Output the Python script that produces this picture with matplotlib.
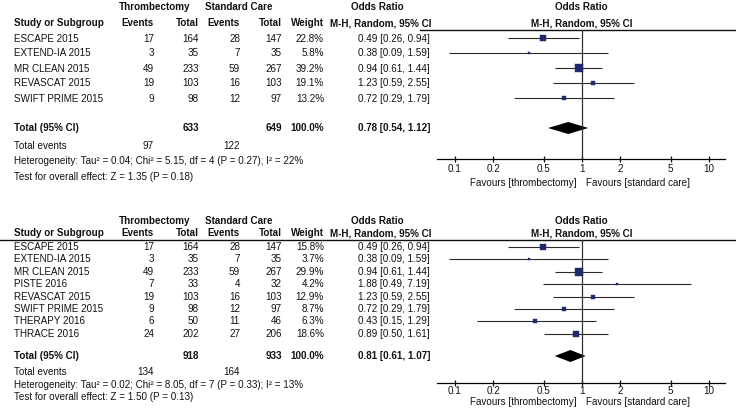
import matplotlib
matplotlib.use("Agg")
import matplotlib.pyplot as plt
import numpy as np

plt.rcParams['font.family'] = ['Liberation Sans', 'DejaVu Sans']
plt.rcParams['font.size'] = 7.1

# ---- panel 1 data ----
studies_1 = ['ESCAPE 2015', 'EXTEND-IA 2015', 'MR CLEAN 2015', 'REVASCAT 2015', 'SWIFT PRIME 2015']
ev_t_1 = [17, 3, 49, 19, 9]
tot_t_1 = [164, 35, 233, 103, 98]
ev_c_1 = [28, 7, 59, 16, 12]
tot_c_1 = [147, 35, 267, 103, 97]
weight_1 = [22.8, 5.8, 39.2, 19.1, 13.2]
or_1 = [0.49, 0.38, 0.94, 1.23, 0.72]
lo_1 = [0.26, 0.09, 0.61, 0.59, 0.29]
hi_1 = [0.94, 1.59, 1.44, 2.55, 1.79]
total_1 = (633, 649, 0.78, 0.54, 1.12)
events_1 = (97, 122)
het_1 = 'Heterogeneity: Tau\u00b2 = 0.04; Chi\u00b2 = 5.15, df = 4 (P = 0.27); I\u00b2 = 22%'
test_1 = 'Test for overall effect: Z = 1.35 (P = 0.18)'

# ---- panel 2 data ----
studies_2 = ['ESCAPE 2015', 'EXTEND-IA 2015', 'MR CLEAN 2015', 'PISTE 2016', 'REVASCAT 2015',
             'SWIFT PRIME 2015', 'THERAPY 2016', 'THRACE 2016']
ev_t_2 = [17, 3, 49, 7, 19, 9, 6, 24]
tot_t_2 = [164, 35, 233, 33, 103, 98, 50, 202]
ev_c_2 = [28, 7, 59, 4, 16, 12, 11, 27]
tot_c_2 = [147, 35, 267, 32, 103, 97, 46, 206]
weight_2 = [15.8, 3.7, 29.9, 4.2, 12.9, 8.7, 6.3, 18.6]
or_2 = [0.49, 0.38, 0.94, 1.88, 1.23, 0.72, 0.43, 0.89]
lo_2 = [0.26, 0.09, 0.61, 0.49, 0.59, 0.29, 0.15, 0.50]
hi_2 = [0.94, 1.59, 1.44, 7.19, 2.55, 1.79, 1.29, 1.61]
total_2 = (918, 933, 0.81, 0.61, 1.07)
events_2 = (134, 164)
het_2 = 'Heterogeneity: Tau\u00b2 = 0.02; Chi\u00b2 = 8.05, df = 7 (P = 0.33); I\u00b2 = 13%'
test_2 = 'Test for overall effect: Z = 1.50 (P = 0.13)'

tick_vals = [0.1, 0.2, 0.5, 1, 2, 5, 10]
tick_labels = ['0.1', '0.2', '0.5', '1', '2', '5', '10']

W, H = 736, 409
fig = plt.figure(figsize=(W / 100, H / 100), dpi=100)
fig.patch.set_facecolor('white')

# full-figure axes in pixel coordinates for the table text
tax = fig.add_axes([0, 0, 1, 1])
tax.set_xlim(0, W)
tax.set_ylim(H, 0)
tax.axis('off')

TXT = '#111111'
NAVY = '#1f2a6e'
FX0, FX1 = 437, 725          # forest plot x extent (pixels)
XLIM = (0.0722, 13.37)


def panel(h1, h2, line_x0, row0, dy, axis_y, tot_y, ev_y, foot_dy, fav_y, lab_pad,
          studies, ev_t, tot_t, ev_c, tot_c, weight, est, lo, hi, total, events, het, test):
    # header
    for x, s in [(155, 'Thrombectomy'), (239, 'Standard Care'), (377, 'Odds Ratio'), (581, 'Odds Ratio')]:
        tax.text(x, h1, s, ha='center', va='center', fontweight='bold', color=TXT)
    tax.text(14, h2, 'Study or Subgroup', ha='left', va='center', fontweight='bold', color=TXT)
    for x, s in [(154, 'Events'), (199, 'Total'), (240, 'Events'), (282, 'Total'), (324, 'Weight')]:
        tax.text(x, h2, s, ha='right', va='center', fontweight='bold', color=TXT)
    tax.text(381, h2, 'M-H, Random, 95% CI', ha='center', va='center', fontweight='bold', color=TXT)
    tax.text(582, h2, 'M-H, Random, 95% CI', ha='center', va='center', fontweight='bold', color=TXT)
    line_y = h2 + 6.5
    tax.plot([line_x0, W], [line_y, line_y], color='#111111', lw=1.0)

    # study rows
    ys = [row0 + i * dy for i in range(len(studies))]
    for i, y in enumerate(ys):
        tax.text(14, y, studies[i], ha='left', va='center', color=TXT)
        tax.text(154, y, str(ev_t[i]), ha='right', va='center', color=TXT)
        tax.text(199, y, str(tot_t[i]), ha='right', va='center', color=TXT)
        tax.text(240, y, str(ev_c[i]), ha='right', va='center', color=TXT)
        tax.text(282, y, str(tot_c[i]), ha='right', va='center', color=TXT)
        tax.text(324, y, f'{weight[i]:.1f}%', ha='right', va='center', color=TXT)
        tax.text(430, y, f'{est[i]:.2f} [{lo[i]:.2f}, {hi[i]:.2f}]', ha='right', va='center', color=TXT)

    # totals
    tt, tc, te, tl, th = total
    tax.text(14, tot_y, 'Total (95% CI)', ha='left', va='center', fontweight='bold', color=TXT)
    tax.text(199, tot_y, str(tt), ha='right', va='center', fontweight='bold', color=TXT)
    tax.text(282, tot_y, str(tc), ha='right', va='center', fontweight='bold', color=TXT)
    tax.text(324, tot_y, '100.0%', ha='right', va='center', fontweight='bold', color=TXT)
    tax.text(430, tot_y, f'{te:.2f} [{tl:.2f}, {th:.2f}]', ha='right', va='center',
             fontweight='bold', color=TXT)
    tax.text(14, ev_y, 'Total events', ha='left', va='center', color=TXT)
    tax.text(154, ev_y, str(events[0]), ha='right', va='center', color=TXT)
    tax.text(240, ev_y, str(events[1]), ha='right', va='center', color=TXT)
    tax.text(14, ev_y + foot_dy, het, ha='left', va='center', color=TXT)
    tax.text(14, ev_y + 2 * foot_dy, test, ha='left', va='center', color=TXT)

    # forest axes, y in pixel units so rows line up with the text
    ax = fig.add_axes([FX0 / W, 1 - axis_y / H, (FX1 - FX0) / W, (axis_y - line_y) / H])
    ax.set_xscale('log')
    ax.set_xlim(*XLIM)
    ax.set_ylim(axis_y, line_y)
    ax.patch.set_alpha(0)
    for s in ['top', 'left', 'right']:
        ax.spines[s].set_visible(False)
    ax.spines['bottom'].set_linewidth(0.9)
    ax.set_yticks([])
    ax.set_xticks(tick_vals)
    ax.set_xticklabels(tick_labels)
    ax.minorticks_off()
    ax.tick_params(axis='x', direction='inout', length=5, width=0.9, pad=lab_pad, labelsize=7.1,
                   colors=TXT)
    ax.axvline(1, color='#333333', lw=0.9)

    wmax = max(weight)
    for i, y in enumerate(ys):
        ax.plot([lo[i], hi[i]], [y, y], color='#2b2b2b', lw=0.8, solid_capstyle='butt')
        side_px = 1.8 + 6.2 * weight[i] / wmax
        ax.plot(est[i], y, marker='s', ms=side_px * 0.72, color=NAVY, mec=NAVY, mew=0.3,
                linestyle='none')
    ax.fill([tl, te, th, te], [tot_y, tot_y - 6, tot_y, tot_y + 6], color='black', lw=0)

    tax.text(577, fav_y, 'Favours [thrombectomy]', ha='right', va='center', color=TXT)
    tax.text(586, fav_y, 'Favours [standard care]', ha='left', va='center', color=TXT)


panel(7.5, 23, 420, 38.5, 15.0, 159, 128, 146, 15.5, 182.5, 1.0,
      studies_1, ev_t_1, tot_t_1, ev_c_1, tot_c_1,
      weight_1, or_1, lo_1, hi_1, total_1, events_1, het_1, test_1)
panel(221, 233, 0, 247, 12.4, 382.5, 356, 372, 12.5, 402, 0.3,
      studies_2, ev_t_2, tot_t_2, ev_c_2, tot_c_2,
      weight_2, or_2, lo_2, hi_2, total_2, events_2, het_2, test_2)

fig.savefig('out.png', dpi=100, facecolor='white')
